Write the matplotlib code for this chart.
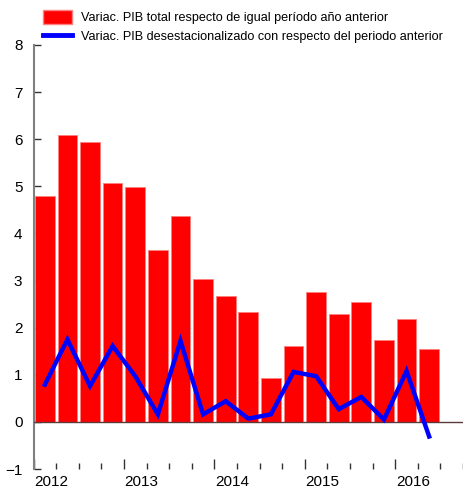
import matplotlib.pyplot as plt
from matplotlib.patches import Patch
from matplotlib.lines import Line2D
import matplotlib.transforms as mtransforms

plt.rcParams["font.family"] = ["Liberation Sans", "DejaVu Sans"]

YEARS = ["2012", "2013", "2014", "2015", "2016"]

# quarterly values 2012Q1 .. 2016Q2
PIB_ANUAL = [4.79, 6.09, 5.94, 5.07, 4.99, 3.64, 4.38, 3.03, 2.67,
             2.34, 0.94, 1.62, 2.75, 2.28, 2.55, 1.74, 2.19, 1.55]
PIB_DESEST = [0.79, 1.75, 0.76, 1.61, 0.97, 0.16, 1.72, 0.16, 0.44,
              0.07, 0.16, 1.06, 0.97, 0.27, 0.53, 0.05, 1.08, -0.31]

LABEL_BARS = "Variac. PIB total respecto de igual período año anterior"
LABEL_LINE = "Variac. PIB desestacionalizado con respecto del periodo anterior"


def main():
    fig = plt.figure(figsize=(4.64, 4.91), dpi=100)
    ax = fig.add_axes([0.0722, 0.0448, 0.9258, 0.8636])

    x = list(range(len(PIB_ANUAL)))
    ax.bar(x, PIB_ANUAL, width=0.87, color="#ff0000",
           edgecolor="#ff8080", linewidth=0.6, zorder=2)
    ax.axhline(0, color="#5a3a3a", linewidth=1.0, zorder=3)
    ax.plot(x, PIB_DESEST, color="#0000ff", linewidth=3.2,
            solid_joinstyle="miter", zorder=4)

    n_slots = len(PIB_ANUAL) + 1
    ax.set_xlim(-0.5, n_slots - 0.5)
    ax.set_ylim(-1, 8)
    ax.set_yticks(range(-1, 9))
    ax.tick_params(axis="y", direction="in", length=5, width=1,
                   labelsize=11, pad=8, color="#333333")

    # quarter ticks (minor) and year ticks (major), pointing inward
    ax.set_xticks([i - 0.5 for i in range(0, n_slots + 1, 4)])
    ax.set_xticks([i - 0.5 for i in range(n_slots + 1)], minor=True)
    ax.set_xticklabels([])
    ax.tick_params(axis="x", which="major", direction="in", length=7,
                   width=1, color="#333333")
    ax.tick_params(axis="x", which="minor", direction="in", length=4,
                   width=1, color="#333333")

    trans = mtransforms.blended_transform_factory(ax.transData, ax.transAxes)
    for k, year in enumerate(YEARS):
        ax.text(4 * k - 0.47, -0.015, year, transform=trans, ha="left",
                va="top", fontsize=11)

    for side in ["top", "right", "bottom"]:
        ax.spines[side].set_visible(False)
    ax.spines["left"].set_color("#808080")
    ax.spines["left"].set_linewidth(1.5)

    handles = [
        Patch(facecolor="#ff0000", edgecolor="#ff8080", label=LABEL_BARS),
        Line2D([0], [0], color="#0000ff", linewidth=3.5, label=LABEL_LINE),
    ]
    fig.legend(handles=handles, loc="upper left",
               bbox_to_anchor=(0.073, 0.998), frameon=False, fontsize=9.1,
               handlelength=2.3, handleheight=1.4, handletextpad=0.7,
               labelspacing=0.35, borderaxespad=0.3)

    fig.savefig("out.png", dpi=100)
    plt.close(fig)


if __name__ == "__main__":
    main()
